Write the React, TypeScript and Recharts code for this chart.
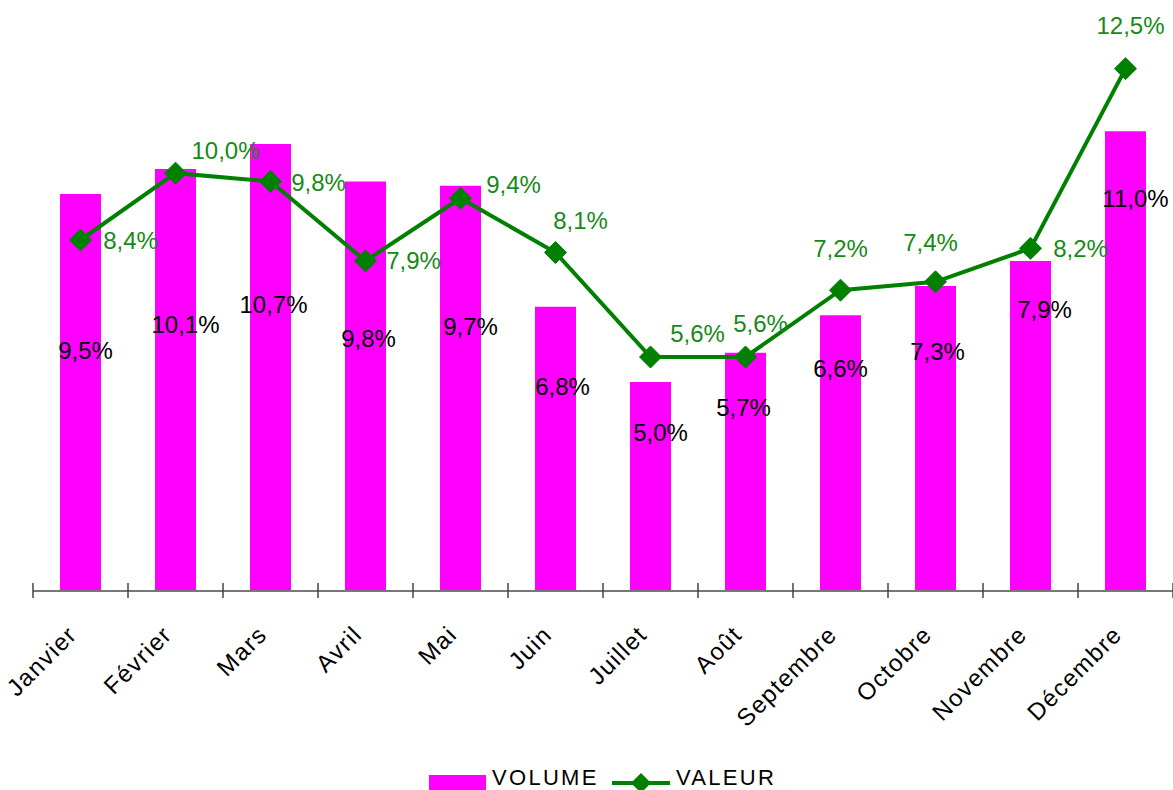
import React from 'react';
import { ComposedChart, Bar, Line, XAxis, YAxis, LabelList } from 'recharts';

const months = ['Janvier', 'Février', 'Mars', 'Avril', 'Mai', 'Juin', 'Juillet', 'Août', 'Septembre', 'Octobre', 'Novembre', 'Décembre'];
const volume = [9.5, 10.1, 10.7, 9.8, 9.7, 6.8, 5.0, 5.7, 6.6, 7.3, 7.9, 11.0];
const valeur = [8.4, 10.0, 9.8, 7.9, 9.4, 8.1, 5.6, 5.6, 7.2, 7.4, 8.2, 12.5];
const yTicks = [0, 14];

// label nudges (Excel labels were moved by hand), relative to bar top / point
const volumeLabelShift = [[5, 156], [10, 156], [3, 161], [3, 157], [10, 141], [7, 80], [10, 50], [-2, 55], [0, 53], [2, 66], [14, 49], [10, 67]];
const valeurLabelShift = [[50, 0], [50, -23], [48, 1], [48, 0], [53, -14], [25, -32], [47, -24], [15, -34], [0, -42], [-5, -39], [50, 0], [5, -43]];

const W = 1173;
const H = 790;
const MARGIN = { top: 6, right: 0, bottom: 0, left: 33 };
const AXIS_H = 199;
const PLOT_W = W - MARGIN.left - MARGIN.right;
const FONT = '"Liberation Sans", Arial, sans-serif';
const MAGENTA = '#ff00ff';
const GREEN = '#008000';
const LABEL_GREEN = '#168a16';

const data = months.map((month, i) => ({ month, volume: volume[i], valeur: valeur[i] }));

const fmt = (v: number) => v.toFixed(1).replace('.', ',') + '%';

const MonthTick = (props: any) => {
  const { x, y, payload, index } = props;
  const band = PLOT_W / months.length;
  const isLast = index === months.length - 1;
  return (
    <g>
      <line x1={x - band / 2} x2={x - band / 2} y1={y - 8} y2={y + 7} stroke="#444" strokeWidth={1.5} />
      {isLast && <line x1={x + band / 2} x2={x + band / 2} y1={y - 8} y2={y + 7} stroke="#444" strokeWidth={1.5} />}
      <text
        transform={`translate(${x - 2},${y + 45}) rotate(-45)`}
        textAnchor="end"
        fontSize={24}
        fontFamily={FONT}
        letterSpacing={1.4}
        fill="#000"
      >
        {payload.value}
      </text>
    </g>
  );
};

const Diamond = (props: any) => {
  const { cx, cy, index } = props;
  const r = 11;
  return (
    <path
      key={`d-${index}`}
      d={`M${cx},${cy - r} L${cx + r},${cy} L${cx},${cy + r} L${cx - r},${cy} Z`}
      fill={GREEN}
      stroke={GREEN}
    />
  );
};

const VolumeLabel = (props: any) => {
  const { x, y, width, index } = props;
  const [dx, dy] = volumeLabelShift[index];
  return (
    <text x={x + width / 2 + dx} y={y + dy} textAnchor="middle" dominantBaseline="central" fontSize={24} fontFamily={FONT} fill="#000">
      {fmt(volume[index])}
    </text>
  );
};

const ValeurLabel = (props: any) => {
  const { x, y, index } = props;
  const [dx, dy] = valeurLabelShift[index];
  return (
    <text x={x + dx} y={y + dy} textAnchor="middle" dominantBaseline="central" fontSize={24} fontFamily={FONT} fill={LABEL_GREEN}>
      {fmt(valeur[index])}
    </text>
  );
};

export default function App() {
  return (
    <div style={{ position: 'absolute', left: 0, top: 0, width: W, height: H, overflow: 'hidden', background: '#fff' }}>
      <ComposedChart width={W} height={H} data={data} margin={MARGIN}>
        <XAxis
          dataKey="month"
          height={AXIS_H}
          interval={0}
          tickLine={false}
          tickSize={0}
          tickMargin={0}
          axisLine={{ stroke: '#777', strokeWidth: 2 }}
          tick={(p: any) => <MonthTick {...p} />}
        />
        <YAxis hide domain={[0, 14]} ticks={yTicks} />
        <Bar dataKey="volume" fill={MAGENTA} barSize={41} isAnimationActive={false}>
          <LabelList dataKey="volume" content={(p: any) => <VolumeLabel {...p} />} />
        </Bar>
        <Line
          dataKey="valeur"
          stroke={GREEN}
          strokeWidth={4}
          dot={(p: any) => <Diamond {...p} />}
          activeDot={false}
          isAnimationActive={false}
        >
          <LabelList dataKey="valeur" content={(p: any) => <ValeurLabel {...p} />} />
        </Line>
      </ComposedChart>
      <svg width={W} height={50} style={{ position: 'absolute', left: 0, top: 740 }}>
        <rect x={429} y={35} width={57} height={15} fill={MAGENTA} />
        <text x={492} y={45} fontSize={22} fontFamily={FONT} letterSpacing={2.3} fill="#000">VOLUME</text>
        <line x1={612} x2={670} y1={43} y2={43} stroke={GREEN} strokeWidth={4} />
        <path d="M641,33 L651,43 L641,53 L631,43 Z" fill={GREEN} />
        <text x={676} y={45} fontSize={22} fontFamily={FONT} letterSpacing={2.3} fill="#000">VALEUR</text>
      </svg>
    </div>
  );
}
